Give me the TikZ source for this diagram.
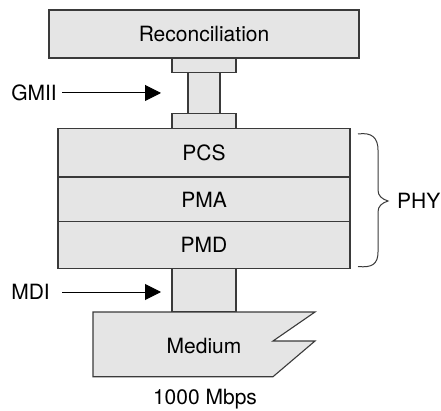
\documentclass[tikz,border=0pt]{standalone}
\usepackage{fontspec}
\setmainfont{TeX Gyre Heros}
\usetikzlibrary{arrows.meta}
\definecolor{boxfill}{HTML}{E5E5E5}
\definecolor{edge}{HTML}{3A3A3A}
\begin{document}
\begin{tikzpicture}[x=1pt,y=-1pt,
  box/.style={draw=edge,fill=boxfill,line width=1.1pt,inner sep=0pt,font=\fontsize{21}{23}\selectfont},
  lbl/.style={inner sep=0pt,font=\fontsize{21}{23}\selectfont},
  arr/.style={line width=1pt,-{Triangle[length=16pt,width=16pt]}}]
\useasboundingbox (0,0) rectangle (441,411);
% connectors between layers
\node[box,minimum width=64pt,minimum height=14.5pt] (c1) at (204,65.3) {};
\node[box,minimum width=32pt,minimum height=41pt] (c2) at (204,92.7) {};
\node[box,minimum width=64pt,minimum height=15pt] (c3) at (204,120.7) {};
\node[box,minimum width=64pt,minimum height=44pt] (c4) at (204,290) {};
% main boxes
\node[box,minimum width=310pt,minimum height=48pt] (rec) at (204,34) {Reconciliation};
\node[box,minimum width=292pt,minimum height=48.4pt] (pcs) at (204,152.5) {PCS};
\node[box,minimum width=292pt,minimum height=45pt] (pma) at (204,199.7) {PMA};
\node[box,minimum width=292pt,minimum height=46.6pt] (pmd) at (204,245) {PMD};
% medium
\draw[draw=edge,fill=boxfill,line width=1.1pt] (93,312) -- (315,312) -- (273,341) -- (315,341) -- (273,376.7) -- (93,376.7) -- cycle;
\node[lbl] (med) at (204,346) {Medium};
\node[lbl] (rate) at (205,399) {1000 Mbps};
% labels and arrows
\node[lbl,anchor=east] (gmii) at (57,93) {GMII};
\coordinate (gtip) at (161,93);
\draw[arr] (gmii.east) ++(5,0) -- (gtip);
\node[lbl,anchor=east] (mdi) at (50,292) {MDI};
\coordinate (mtip) at (161,292);
\draw[arr] (62,292) -- (mtip);
% brace
\draw[edge,line width=1pt] (358,134) .. controls (372,132) and (378,138) .. (378,150) -- (378,190) .. controls (378,196) and (382,199) .. (388,201) .. controls (382,203) and (378,206) .. (378,212) -- (378,252) .. controls (378,264) and (372,268) .. (358,266.5);
\node[lbl,anchor=west] (phy) at (397,201) {PHY};
\end{tikzpicture}
\end{document}
